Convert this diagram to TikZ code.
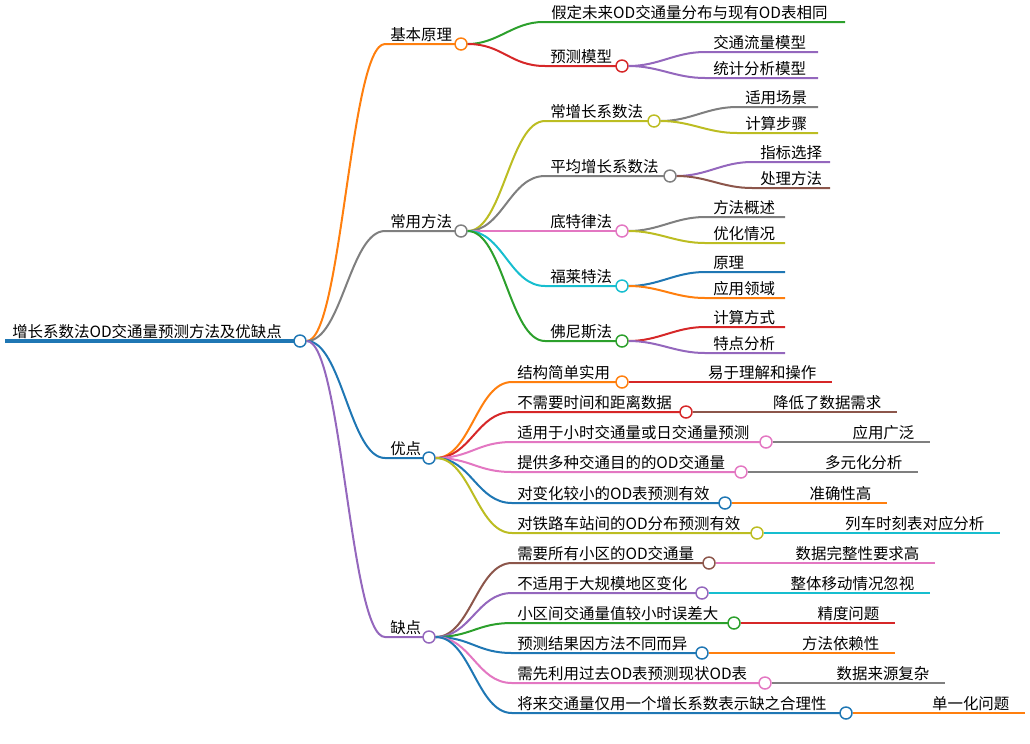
\documentclass[tikz,border=0pt]{standalone}
\usepackage{fontspec}
\setmainfont{Noto Sans CJK SC}
\definecolor{cblue}{HTML}{1F77B4}
\definecolor{corange}{HTML}{FF7F0E}
\definecolor{cgreen}{HTML}{2CA02C}
\definecolor{cred}{HTML}{D62728}
\definecolor{cpurple}{HTML}{9467BD}
\definecolor{cbrown}{HTML}{8C564B}
\definecolor{cpink}{HTML}{E377C2}
\definecolor{cgray}{HTML}{7F7F7F}
\definecolor{colive}{HTML}{BCBD22}
\definecolor{ccyan}{HTML}{17BECF}
% #1 parent, #2 name, #3 line start x, #4 circle x, #5 y, #6 colour, #7 text
\newcommand\topic[7]{%
  \coordinate (#2s) at (#3,#5);
  \draw[link=#6] (#1) .. controls +(35,0) and +(-35,0) .. (#2s) -- (#4-6,#5);
  \node[knob=#6] (#2) at (#4,#5) {};
  \node[label] at (#3+3,#5) {#7};}
% #1 parent, #2 name, #3 line end x, #4 colour, #5 text
\newcommand\leaf[5]{%
  \coordinate (#2) at (#3,0 |- #1);
  \draw[link=#4] (#1.east) -- (#2);
  \node[label, anchor=south east] at ([xshift=-10]#2) {#5};}
% #1 parent, #2 name, #3 line start x, #4 line end x, #5 y, #6 colour, #7 text
\newcommand\twig[7]{%
  \coordinate (#2s) at (#3,#5);
  \coordinate (#2) at (#4,#5);
  \draw[link=#6] (#1.east) .. controls +(30,0) and +(-30,0) .. (#2s) -- (#2);
  \node[label] at (#3+6,#5) {#7};}
\begin{document}
\begin{tikzpicture}[x=0.75pt, y=-0.75pt,
    link/.style={draw=#1, line width=1.5pt},
    knob/.style={circle, draw=#1, fill=white, line width=1.1pt, inner sep=0pt, minimum size=9pt},
    label/.style={anchor=south west, font=\fontsize{11.6}{13}\selectfont, inner sep=1.5pt}
  ]
  \useasboundingbox (0,0) rectangle (1030,743);

  % root
  \draw[cblue, line width=2.4pt] (5,341) -- (294,341);
  \node[knob=cblue] (root) at (300,341) {};
  \node[label] at (10,341) {增长系数法OD交通量预测方法及优缺点};

  % level 1
  \topic{root.east}{basic}{385}{461}{44}{corange}{基本原理}
  \topic{root.east}{method}{385}{461}{231}{cgray}{常用方法}
  \topic{root.east}{pro}{385}{429}{458}{cblue}{优点}
  \topic{root.east}{con}{385}{429}{637}{cpurple}{缺点}

  % 基本原理
  \twig{basic}{same}{543}{845}{22}{cgreen}{假定未来OD交通量分布与现有OD表相同}
  \topic{basic.east}{model}{545}{622}{66}{cred}{预测模型}
  \twig{model}{flow}{705}{818}{52}{cpurple}{交通流量模型}
  \twig{model}{stat}{705}{818}{78}{cpurple}{统计分析模型}

  % 常用方法
  \topic{method.east}{constg}{545}{654}{121}{colive}{常增长系数法}
  \twig{constg}{scene}{737}{818}{107}{cgray}{适用场景}
  \twig{constg}{steps}{737}{818}{133}{colive}{计算步骤}
  \topic{method.east}{avgg}{545}{670}{176}{cgray}{平均增长系数法}
  \twig{avgg}{index}{752}{830}{162}{cpurple}{指标选择}
  \twig{avgg}{handle}{752}{830}{188}{cbrown}{处理方法}
  \topic{method.east}{detroit}{545}{622}{231}{cpink}{底特律法}
  \twig{detroit}{overview}{705}{785}{217}{cgray}{方法概述}
  \twig{detroit}{optim}{705}{785}{243}{colive}{优化情况}
  \topic{method.east}{fratar}{545}{622}{286}{ccyan}{福莱特法}
  \twig{fratar}{princ}{705}{785}{272}{cblue}{原理}
  \twig{fratar}{field}{705}{785}{298}{corange}{应用领域}
  \topic{method.east}{furness}{545}{622}{341}{cgreen}{佛尼斯法}
  \twig{furness}{calc}{705}{785}{327}{cred}{计算方式}
  \twig{furness}{feat}{705}{785}{353}{cpurple}{特点分析}

  % 优点
  \topic{pro.east}{p1}{512}{622}{382}{corange}{结构简单实用}
  \leaf{p1}{p1l}{832}{cred}{易于理解和操作}
  \topic{pro.east}{p2}{512}{686}{412}{cred}{不需要时间和距离数据}
  \leaf{p2}{p2l}{897}{cbrown}{降低了数据需求}
  \topic{pro.east}{p3}{512}{766}{442}{cpink}{适用于小时交通量或日交通量预测}
  \leaf{p3}{p3l}{930}{cgray}{应用广泛}
  \topic{pro.east}{p4}{512}{741}{472}{cpink}{提供多种交通目的的OD交通量}
  \leaf{p4}{p4l}{918}{cgray}{多元化分析}
  \topic{pro.east}{p5}{512}{725}{503}{cblue}{对变化较小的OD表预测有效}
  \leaf{p5}{p5l}{887}{corange}{准确性高}
  \topic{pro.east}{p6}{512}{757}{533}{colive}{对铁路车站间的OD分布预测有效}
  \leaf{p6}{p6l}{1000}{ccyan}{列车时刻表对应分析}

  % 缺点
  \topic{con.east}{c1}{512}{709}{563}{cbrown}{需要所有小区的OD交通量}
  \leaf{c1}{c1l}{935}{cpink}{数据完整性要求高}
  \topic{con.east}{c2}{512}{702}{593}{cpurple}{不适用于大规模地区变化}
  \leaf{c2}{c2l}{930}{ccyan}{整体移动情况忽视}
  \topic{con.east}{c3}{512}{734}{623}{cgreen}{小区间交通量值较小时误差大}
  \leaf{c3}{c3l}{895}{cred}{精度问题}
  \topic{con.east}{c4}{512}{702}{653}{cblue}{预测结果因方法不同而异}
  \leaf{c4}{c4l}{895}{corange}{方法依赖性}
  \topic{con.east}{c5}{512}{765}{683}{cpink}{需先利用过去OD表预测现状OD表}
  \leaf{c5}{c5l}{945}{cgray}{数据来源复杂}
  \topic{con.east}{c6}{512}{846}{713}{cblue}{将来交通量仅用一个增长系数表示缺之合理性}
  \leaf{c6}{c6l}{1025}{corange}{单一化问题}
\end{tikzpicture}
\end{document}
